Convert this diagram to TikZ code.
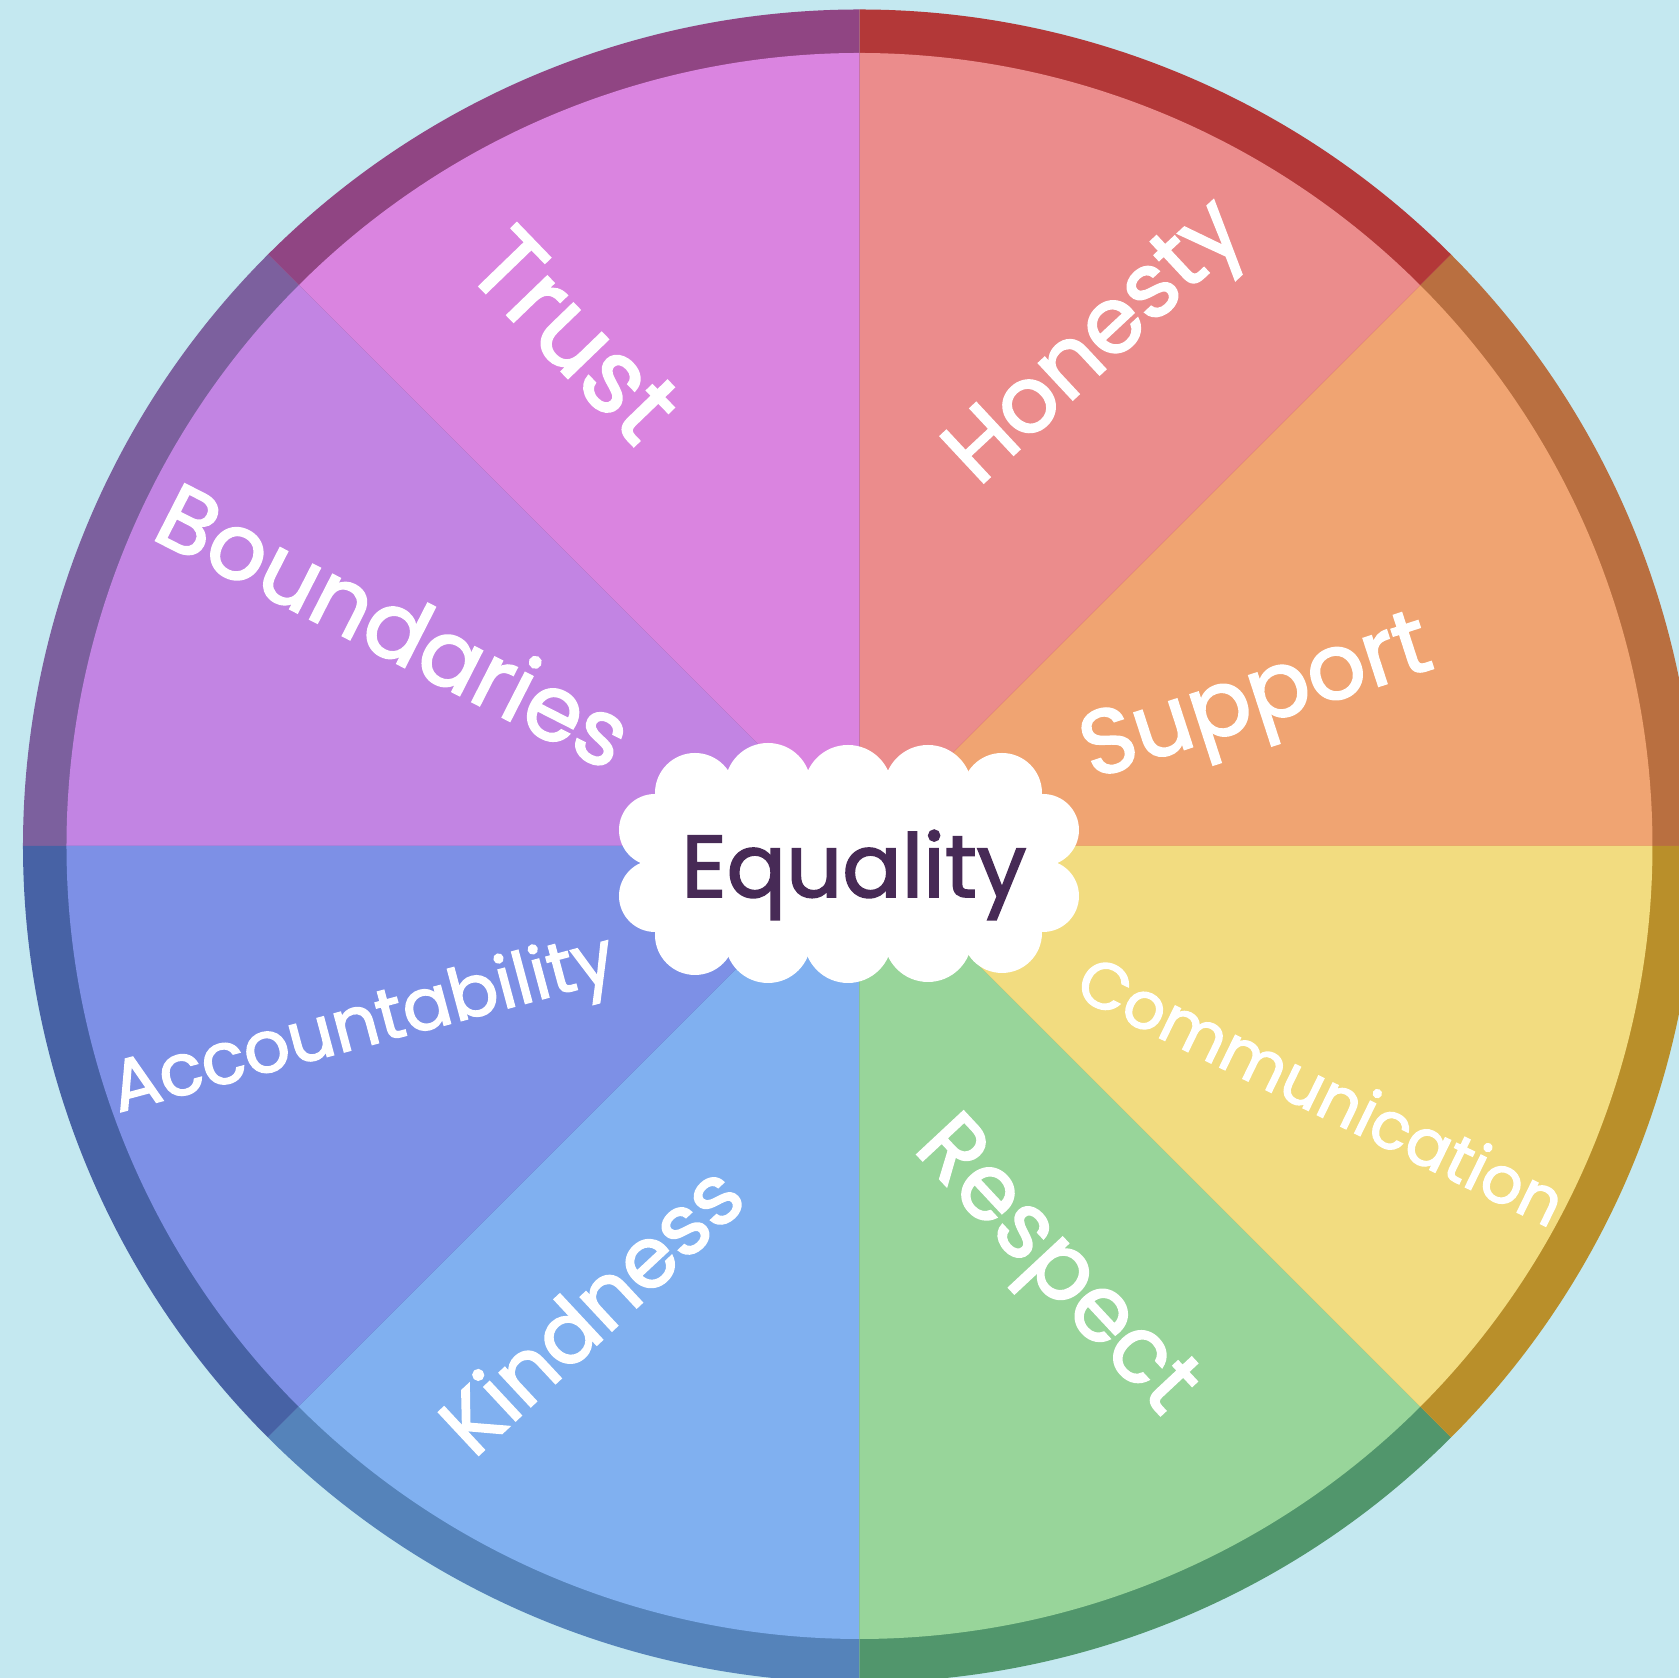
\documentclass[tikz,border=0pt]{standalone}
\usepackage{fontspec}
\setmainfont{Poppins}
\newfontfamily\thickhand{Poppins}[FakeBold=2]
\usepackage{xcolor}
\definecolor{skyback}{HTML}{C4E8F0}
\definecolor{honestyface}{HTML}{EB8C8C}
\definecolor{honestyring}{HTML}{B33838}
\definecolor{trustface}{HTML}{DA84E0}
\definecolor{trustring}{HTML}{904583}
\definecolor{boundface}{HTML}{C284E3}
\definecolor{boundring}{HTML}{7C609E}
\definecolor{accface}{HTML}{7D90E6}
\definecolor{accring}{HTML}{4762A5}
\definecolor{kindface}{HTML}{80B0F0}
\definecolor{kindring}{HTML}{5583BA}
\definecolor{respface}{HTML}{98D59A}
\definecolor{respring}{HTML}{51966C}
\definecolor{commface}{HTML}{F2DC80}
\definecolor{commring}{HTML}{B98F2A}
\definecolor{suppface}{HTML}{F0A472}
\definecolor{suppring}{HTML}{B96F40}
\definecolor{eqpurple}{HTML}{472A56}

\begin{document}
\begin{tikzpicture}[
    value/.style={text=white, inner sep=0pt, font=\thickhand\fontsize{26}{30}\selectfont},
    centreword/.style={text=eqpurple, inner sep=0pt, font=\thickhand\fontsize{25}{30}\selectfont}]
    \useasboundingbox (-8.595,-8.32) rectangle (8.195,8.46);
    \fill[skyback] (-8.595,-8.32) rectangle (8.195,8.46);
    \clip (-8.595,-8.32) rectangle (8.195,8.46);

    \foreach \a/\ring/\face in {0/suppring/suppface, 45/honestyring/honestyface,
        90/trustring/trustface, 135/boundring/boundface, 180/accring/accface,
        225/kindring/kindface, 270/respring/respface, 315/commring/commface}{
        \fill[\ring] (0,0) -- (\a:8.365) arc[start angle=\a, delta angle=45, radius=8.365] -- cycle;
        \fill[\face] (0,0) -- (\a:7.93) arc[start angle=\a, delta angle=45, radius=7.93] -- cycle;
    }

    \fill[white] (-2.05,-0.85) rectangle (1.85,0.5);
    \foreach \cx/\cy/\r in {-1.645/0.53/0.40, -0.915/0.60/0.43, -0.115/0.57/0.44,
        0.685/0.57/0.44, 1.425/0.53/0.40, -2.045/0.16/0.36, -2.045/-0.50/0.36,
        1.835/0.16/0.36, 1.835/-0.50/0.36, -1.645/-0.89/0.40, -0.915/-0.94/0.43,
        -0.115/-0.93/0.44, 0.685/-0.92/0.44, 1.425/-0.87/0.40}
        \fill[white] (\cx,\cy) circle[radius=\r];

    \node[centreword] (equality) at (-0.055,-0.29) {Equality};

    \node[value, rotate=-46, font=\thickhand\fontsize{29}{30}\selectfont] (trust) at (-2.845,5.11) {Trust};
    \node[value, rotate=43] (honesty) at (2.405,4.99) {Honesty};
    \node[value, rotate=18] (support) at (3.985,1.42) {Support};
    \node[value, rotate=-26, font=\thickhand\fontsize{18.5}{22}\selectfont] (communication) at (4.625,-2.44) {Communication};
    \node[value, rotate=-47] (respect) at (1.925,-4.24) {Respect};
    \node[value, rotate=43, font=\thickhand\fontsize{24}{28}\selectfont] (kindness) at (-2.695,-4.62) {Kindness};
    \node[value, rotate=15, font=\thickhand\fontsize{20.5}{24}\selectfont] (accountability) at (-4.955,-1.82) {Accountability};
    \node[value, rotate=-27] (boundaries) at (-4.645,2.22) {Boundaries};
\end{tikzpicture}
\end{document}
